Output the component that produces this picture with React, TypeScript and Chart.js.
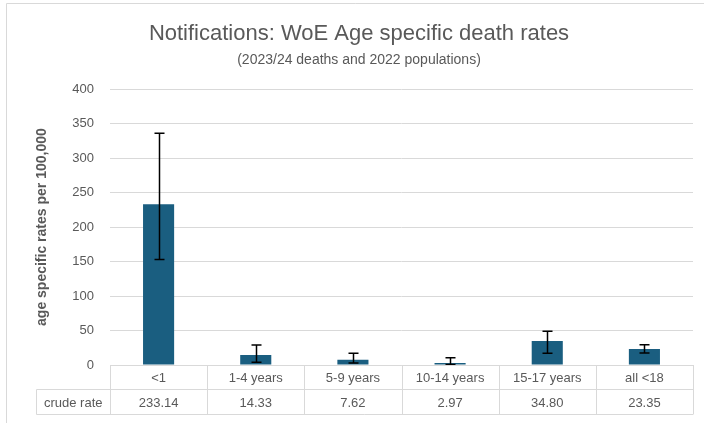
import React, { useEffect, useRef } from "react";
import { Chart, registerables } from "chart.js";

Chart.register(...registerables);

const categories = ["<1", "1-4 years", "5-9 years", "10-14 years", "15-17 years", "all <18"];
const rates = [233.14, 14.33, 7.62, 2.97, 34.8, 23.35];
const ciLow = [153, 4, 3, 0.6, 17, 17.5];
const ciHigh = [336, 29, 17, 10.5, 49, 29.3];
const yTicks = [0, 50, 100, 150, 200, 250, 300, 350, 400];
const tableRowLabel = "crude rate";

const GRID = "#d9d9d9";
const TEXT = "#595959";
const BAR = "#1a5e80";
const SANS = "'Liberation Sans', Arial, sans-serif";

const errorBarPlugin = {
  id: "errorBars",
  afterDatasetsDraw(chart: any) {
    const meta = chart.getDatasetMeta(0);
    const y = chart.scales.y;
    const ctx = chart.ctx;
    ctx.save();
    ctx.strokeStyle = "#000";
    ctx.lineWidth = 1.5;
    meta.data.forEach((bar: any, i: number) => {
      const x = Math.round(bar.x) + 0.5;
      const yh = y.getPixelForValue(ciHigh[i]);
      const yl = y.getPixelForValue(ciLow[i]);
      ctx.beginPath();
      ctx.moveTo(x, yh);
      ctx.lineTo(x, yl);
      ctx.moveTo(x - 5, yh);
      ctx.lineTo(x + 5, yh);
      ctx.moveTo(x - 5, yl);
      ctx.lineTo(x + 5, yl);
      ctx.stroke();
    });
    ctx.restore();
  },
};

const tablePlugin = {
  id: "dataTable",
  afterDraw(chart: any) {
    const ctx = chart.ctx;
    const area = chart.chartArea;
    const n = categories.length;
    const colW = (area.right - area.left) / n;
    const top = area.bottom;
    const mid = top + 24.5;
    const bot = mid + 25;
    const headLeft = 36.5;
    ctx.save();
    ctx.strokeStyle = GRID;
    ctx.lineWidth = 1;
    ctx.beginPath();
    ctx.moveTo(area.left, top + 0.5);
    ctx.lineTo(area.right, top + 0.5);
    ctx.moveTo(headLeft, mid);
    ctx.lineTo(area.right, mid);
    ctx.moveTo(headLeft, bot);
    ctx.lineTo(area.right, bot);
    for (let k = 0; k <= n; k++) {
      const x = Math.round(area.left + k * colW) + 0.5;
      ctx.moveTo(x, top);
      ctx.lineTo(x, bot);
    }
    ctx.moveTo(headLeft, mid);
    ctx.lineTo(headLeft, bot);
    ctx.stroke();
    ctx.fillStyle = TEXT;
    ctx.font = "13px " + SANS;
    ctx.textAlign = "center";
    ctx.textBaseline = "middle";
    for (let k = 0; k < n; k++) {
      const cx = area.left + (k + 0.5) * colW;
      ctx.fillText(categories[k], cx, (top + mid) / 2 + 1);
      ctx.fillText(rates[k].toFixed(2), cx, (mid + bot) / 2 + 1);
    }
    ctx.fillText(tableRowLabel, (headLeft + area.left) / 2, (mid + bot) / 2 + 1);
    // outer chart border
    ctx.beginPath();
    ctx.moveTo(6.5, chart.height);
    ctx.lineTo(6.5, 3.5);
    ctx.lineTo(chart.width, 3.5);
    ctx.stroke();
    ctx.restore();
  },
};

export default function App() {
  const ref = useRef<HTMLCanvasElement>(null);
  useEffect(() => {
    if (!ref.current) return;
    const chart = new Chart(ref.current, {
      type: "bar",
      data: {
        labels: categories,
        datasets: [
          {
            data: rates,
            backgroundColor: BAR,
            borderWidth: 0,
            barPercentage: 0.32,
            categoryPercentage: 1,
          },
        ],
      },
      options: {
        responsive: false,
        animation: false,
        layout: { padding: { left: 25, right: 11, top: 0, bottom: 0 } },
        plugins: {
          legend: { display: false },
          tooltip: { enabled: false },
          title: {
            display: true,
            text: "Notifications: WoE Age specific death rates",
            color: TEXT,
            font: { family: SANS, size: 22, weight: "normal" },
            padding: { top: 21, bottom: 4 },
          },
          subtitle: {
            display: true,
            text: "(2023/24 deaths and 2022 populations)",
            color: TEXT,
            font: { family: SANS, size: 14, weight: "normal" },
            padding: { top: 0, bottom: 21 },
          },
        },
        scales: {
          x: {
            grid: { display: false },
            border: { display: false },
            ticks: { display: false },
            afterFit: (s: any) => {
              s.height = 58;
            },
          },
          y: {
            min: 0,
            max: 400,
            afterBuildTicks: (s: any) => {
              s.ticks = yTicks.map((v) => ({ value: v }));
            },
            grid: { color: GRID, drawTicks: false },
            border: { display: false },
            ticks: {
              padding: 16,
              color: TEXT,
              font: { family: SANS, size: 13 },
            },
            title: {
              display: true,
              text: "age specific rates per 100,000",
              color: TEXT,
              font: { family: SANS, size: 14, weight: "bold" },
              padding: { top: 9, bottom: 0 },
            },
            afterFit: (s: any) => {
              s.width = 85;
            },
          },
        },
      },
      plugins: [errorBarPlugin, tablePlugin],
    });
    return () => chart.destroy();
  }, []);
  return (
    <div style={{ position: "fixed", left: 0, top: 0, width: 704, height: 423, background: "#fff" }}>
      <canvas ref={ref} width={704} height={423} />
    </div>
  );
}
